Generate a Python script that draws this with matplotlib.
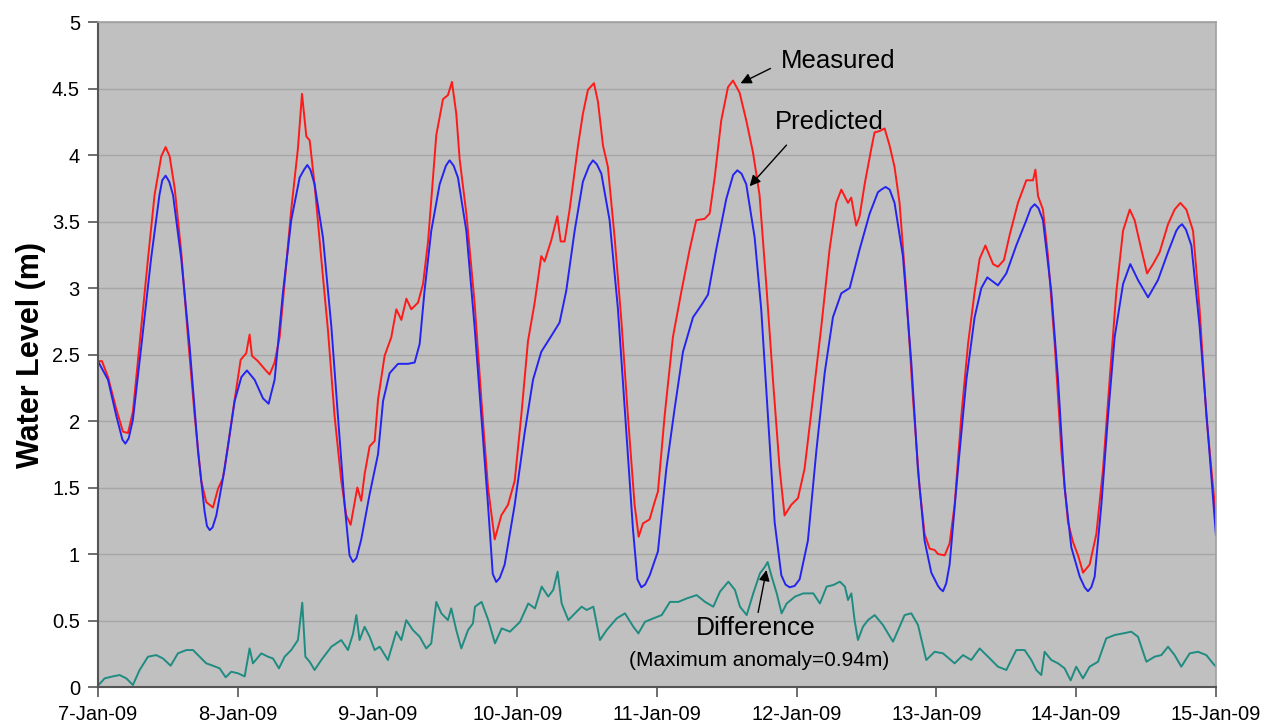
import matplotlib
matplotlib.use("Agg")
import matplotlib.pyplot as plt
import matplotlib.dates as mdates
import numpy as np
import pandas as pd

# days after 7-Jan-09 00:00, water level in metres
pred_days = [0.0, 0.072, 0.131, 0.175, 0.196, 0.22, 0.25, 0.31, 0.38, 0.44, 0.46, 0.484, 0.51,
             0.537, 0.596, 0.656, 0.716, 0.763, 0.78, 0.80, 0.82, 0.847, 0.906, 0.978, 1.026,
             1.066, 1.121, 1.181, 1.221, 1.264, 1.324, 1.383, 1.443, 1.475, 1.498, 1.52, 1.55,
             1.61, 1.67, 1.717, 1.765, 1.80, 1.825, 1.85, 1.884, 1.944, 2.004, 2.04, 2.087,
             2.147, 2.218, 2.266, 2.302, 2.337, 2.385, 2.445, 2.49, 2.516, 2.545, 2.576, 2.636,
             2.695, 2.743, 2.791, 2.825, 2.85, 2.875, 2.91, 2.982, 3.053, 3.113, 3.172, 3.244,
             3.303, 3.351, 3.411, 3.47, 3.515, 3.542, 3.57, 3.602, 3.661, 3.721, 3.781, 3.828,
             3.86, 3.888, 3.915, 3.948, 4.007, 4.067, 4.126, 4.186, 4.258, 4.317, 4.365, 4.424,
             4.496, 4.545, 4.575, 4.605, 4.639, 4.699, 4.746, 4.794, 4.842, 4.89, 4.92, 4.949,
             4.985, 5.021, 5.08, 5.14, 5.2, 5.259, 5.319, 5.379, 5.45, 5.522, 5.581, 5.605,
             5.636, 5.665, 5.7, 5.76, 5.82, 5.867, 5.915, 5.963, 6.011, 6.025, 6.047, 6.07,
             6.094, 6.154, 6.214, 6.273, 6.321, 6.364, 6.44, 6.5, 6.571, 6.643, 6.675, 6.703,
             6.73, 6.762, 6.822, 6.87, 6.917, 6.965, 7.025, 7.06, 7.084, 7.108, 7.132, 7.18,
             7.228, 7.275, 7.335, 7.387, 7.442, 7.514, 7.585, 7.657, 7.716, 7.735, 7.757, 7.785,
             7.824, 7.883, 7.943, 8.0]
pred_vals = [2.45, 2.31, 2.04, 1.86, 1.83, 1.87, 2.01, 2.56, 3.22, 3.70, 3.81, 3.845, 3.80,
             3.70, 3.22, 2.56, 1.77, 1.32, 1.21, 1.18, 1.20, 1.29, 1.64, 2.15, 2.33,
             2.38, 2.31, 2.17, 2.13, 2.31, 2.97, 3.51, 3.83, 3.89, 3.925, 3.89, 3.78,
             3.38, 2.71, 2.04, 1.37, 0.99, 0.94, 0.97, 1.11, 1.45, 1.75, 2.15, 2.36,
             2.43, 2.43, 2.44, 2.58, 2.98, 3.43, 3.78, 3.92, 3.96, 3.92, 3.83, 3.43,
             2.71, 2.04, 1.37, 0.85, 0.79, 0.82, 0.92, 1.37, 1.91, 2.31, 2.52, 2.64,
             2.74, 2.98, 3.43, 3.80, 3.92, 3.96, 3.93, 3.86, 3.51, 2.84, 1.91, 1.19,
             0.81, 0.75, 0.77, 0.84, 1.02, 1.64, 2.09, 2.52, 2.78, 2.87, 2.95, 3.29,
             3.67, 3.85, 3.885, 3.86, 3.78, 3.38, 2.84, 2.04, 1.24, 0.84, 0.77, 0.75,
             0.76, 0.81, 1.10, 1.77, 2.36, 2.78, 2.96, 3.0, 3.29, 3.56, 3.72, 3.74,
             3.76, 3.74, 3.64, 3.24, 2.44, 1.64, 1.10, 0.86, 0.76, 0.74, 0.72, 0.78,
             0.92, 1.64, 2.31, 2.78, 3.0, 3.08, 3.02, 3.11, 3.32, 3.51, 3.60, 3.63,
             3.60, 3.51, 2.97, 2.31, 1.50, 1.05, 0.83, 0.75, 0.72, 0.75, 0.83, 1.37,
             2.04, 2.63, 3.03, 3.18, 3.06, 2.93, 3.06, 3.27, 3.43, 3.46, 3.48, 3.44,
             3.32, 2.71, 1.91, 1.14]

meas_days = [0.0, 0.029, 0.072, 0.131, 0.179, 0.215, 0.25, 0.298, 0.358, 0.405, 0.453, 0.484,
             0.513, 0.549, 0.596, 0.644, 0.692, 0.739, 0.775, 0.823, 0.859, 0.894, 0.93, 0.978,
             1.021, 1.061, 1.085, 1.102, 1.145, 1.193, 1.228, 1.264, 1.30, 1.336, 1.383, 1.431,
             1.46, 1.491, 1.515, 1.55, 1.598, 1.646, 1.693, 1.741, 1.777, 1.808, 1.837, 1.856,
             1.884, 1.908, 1.944, 1.98, 2.004, 2.051, 2.099, 2.135, 2.171, 2.207, 2.242, 2.29,
             2.326, 2.362, 2.421, 2.469, 2.504, 2.533, 2.564, 2.588, 2.636, 2.695, 2.743, 2.791,
             2.839, 2.886, 2.934, 2.982, 3.029, 3.077, 3.125, 3.172, 3.196, 3.244, 3.287, 3.311,
             3.339, 3.375, 3.435, 3.47, 3.506, 3.549, 3.578, 3.614, 3.649, 3.697, 3.745, 3.792,
             3.84, 3.869, 3.90, 3.947, 3.983, 4.007, 4.055, 4.114, 4.174, 4.234, 4.281, 4.341,
             4.377, 4.413, 4.46, 4.508, 4.544, 4.591, 4.639, 4.687, 4.734, 4.782, 4.83, 4.878,
             4.913, 4.961, 5.009, 5.056, 5.116, 5.176, 5.235, 5.283, 5.319, 5.367, 5.39, 5.426,
             5.45, 5.486, 5.534, 5.557, 5.593, 5.629, 5.665, 5.70, 5.736, 5.784, 5.832, 5.879,
             5.915, 5.951, 5.987, 6.011, 6.059, 6.094, 6.13, 6.178, 6.226, 6.273, 6.309, 6.35,
             6.405, 6.44, 6.483, 6.524, 6.583, 6.643, 6.691, 6.708, 6.727, 6.762, 6.798, 6.846,
             6.894, 6.941, 6.977, 7.013, 7.049, 7.096, 7.144, 7.192, 7.239, 7.287, 7.335, 7.383,
             7.418, 7.466, 7.507, 7.55, 7.597, 7.657, 7.704, 7.745, 7.788, 7.836, 7.883, 7.931,
             7.979, 8.0]
meas_vals = [2.45, 2.45, 2.33, 2.09, 1.92, 1.91, 2.07, 2.58, 3.22, 3.70, 3.99, 4.06,
             3.99, 3.75, 3.27, 2.63, 2.04, 1.55, 1.39, 1.35, 1.49, 1.57, 1.81, 2.16,
             2.46, 2.51, 2.65, 2.49, 2.45, 2.39, 2.35, 2.44, 2.63, 3.05, 3.59, 4.05,
             4.46, 4.14, 4.11, 3.78, 3.22, 2.68, 2.04, 1.55, 1.29, 1.22, 1.39, 1.50,
             1.40, 1.60, 1.81, 1.85, 2.16, 2.49, 2.63, 2.84, 2.76, 2.92, 2.84, 2.89,
             3.03, 3.35, 4.15, 4.42, 4.45, 4.55, 4.31, 3.97, 3.56, 2.89, 2.17, 1.50,
             1.11, 1.29, 1.37, 1.55, 2.04, 2.60, 2.89, 3.24, 3.20, 3.36, 3.54, 3.35,
             3.35, 3.59, 4.07, 4.31, 4.49, 4.54, 4.40, 4.07, 3.91, 3.38, 2.76, 2.04,
             1.37, 1.13, 1.23, 1.26, 1.39, 1.47, 2.04, 2.63, 2.97, 3.29, 3.51, 3.52,
             3.56, 3.83, 4.26, 4.51, 4.56, 4.47, 4.26, 4.02, 3.70, 3.03, 2.31, 1.64,
             1.29, 1.37, 1.42, 1.64, 2.17, 2.71, 3.29, 3.64, 3.74, 3.64, 3.68, 3.47,
             3.54, 3.78, 4.05, 4.17, 4.18, 4.20, 4.07, 3.91, 3.64, 2.97, 2.17, 1.50,
             1.15, 1.04, 1.03, 1.0, 0.99, 1.08, 1.37, 2.04, 2.58, 2.97, 3.22, 3.32,
             3.18, 3.16, 3.21, 3.40, 3.64, 3.81, 3.81, 3.89, 3.69, 3.59, 3.24, 2.58,
             1.77, 1.24, 1.09, 0.99, 0.86, 0.92, 1.15, 1.64, 2.31, 2.97, 3.43, 3.59,
             3.51, 3.29, 3.11, 3.18, 3.27, 3.48, 3.59, 3.64, 3.59, 3.43, 2.84, 2.04,
             1.50, 1.27]

diff_days = [0.0, 0.048, 0.107, 0.155, 0.203, 0.25, 0.298, 0.358, 0.417, 0.465, 0.52, 0.572,
             0.632, 0.68, 0.727, 0.775, 0.823, 0.871, 0.914, 0.954, 1.002, 1.05, 1.085, 1.109,
             1.169, 1.216, 1.252, 1.295, 1.336, 1.383, 1.431, 1.462, 1.484, 1.515, 1.55, 1.598,
             1.67, 1.741, 1.789, 1.825, 1.849, 1.872, 1.908, 1.944, 1.98, 2.016, 2.075, 2.135,
             2.171, 2.206, 2.254, 2.302, 2.349, 2.385, 2.421, 2.457, 2.504, 2.528, 2.564, 2.60,
             2.648, 2.683, 2.698, 2.745, 2.793, 2.841, 2.889, 2.948, 3.02, 3.079, 3.127, 3.175,
             3.222, 3.258, 3.289, 3.318, 3.366, 3.413, 3.461, 3.497, 3.545, 3.592, 3.64, 3.712,
             3.771, 3.831, 3.867, 3.914, 3.974, 4.034, 4.093, 4.153, 4.213, 4.284, 4.344, 4.403,
             4.451, 4.511, 4.558, 4.594, 4.642, 4.689, 4.737, 4.773, 4.792, 4.821, 4.857, 4.892,
             4.928, 4.988, 5.047, 5.119, 5.166, 5.214, 5.262, 5.309, 5.345, 5.367, 5.391, 5.414,
             5.438, 5.474, 5.51, 5.558, 5.617, 5.689, 5.736, 5.772, 5.82, 5.868, 5.927, 5.987,
             6.047, 6.13, 6.19, 6.249, 6.309, 6.369, 6.44, 6.50, 6.571, 6.631, 6.679, 6.714,
             6.75, 6.774, 6.822, 6.87, 6.917, 6.96, 7.0, 7.048, 7.096, 7.156, 7.215, 7.275,
             7.335, 7.394, 7.442, 7.502, 7.561, 7.609, 7.657, 7.704, 7.752, 7.812, 7.871, 7.931,
             7.978, 8.0]
diff_vals = [0.01, 0.065, 0.08, 0.09, 0.065, 0.015, 0.128, 0.228, 0.24, 0.215, 0.16, 0.253,
             0.278, 0.278, 0.228, 0.178, 0.16, 0.14, 0.073, 0.115, 0.103, 0.08, 0.29, 0.178,
             0.253, 0.228, 0.215, 0.14, 0.228, 0.278, 0.353, 0.634, 0.228, 0.19, 0.128, 0.203,
             0.303, 0.353, 0.278, 0.40, 0.541, 0.353, 0.453, 0.378, 0.278, 0.303, 0.203, 0.416,
             0.353, 0.503, 0.428, 0.378, 0.29, 0.328, 0.64, 0.554, 0.503, 0.591, 0.428, 0.29,
             0.428, 0.478, 0.604, 0.64, 0.503, 0.328, 0.441, 0.416, 0.49, 0.628, 0.591, 0.755,
             0.68, 0.73, 0.867, 0.628, 0.503, 0.554, 0.604, 0.579, 0.604, 0.353, 0.428, 0.516,
             0.554, 0.453, 0.403, 0.49, 0.516, 0.541, 0.64, 0.64, 0.666, 0.691, 0.64, 0.604,
             0.717, 0.792, 0.73, 0.604, 0.541, 0.704, 0.855, 0.905, 0.94, 0.83, 0.704, 0.554,
             0.628, 0.68, 0.704, 0.704, 0.628, 0.755, 0.767, 0.792, 0.755, 0.654, 0.704, 0.503,
             0.353, 0.453, 0.503, 0.541, 0.466, 0.341, 0.453, 0.541, 0.554, 0.466, 0.203, 0.265,
             0.253, 0.178, 0.24, 0.203, 0.29, 0.228, 0.153, 0.128, 0.278, 0.278, 0.203, 0.128,
             0.09, 0.265, 0.203, 0.178, 0.14, 0.05, 0.153, 0.065, 0.153, 0.19, 0.366, 0.391,
             0.403, 0.416, 0.378, 0.19, 0.228, 0.24, 0.303, 0.24, 0.153, 0.253, 0.265, 0.24,
             0.178, 0.153]

start = pd.Timestamp("2009-01-07")


def to_dates(days):
    return start + pd.to_timedelta(np.array(days), unit="D")


plt.rcParams['font.family'] = ['Liberation Sans', 'DejaVu Sans']

fig = plt.figure(figsize=(12.64, 7.27), dpi=100)
ax = fig.add_axes([0.0775, 0.055, 0.8845, 0.9147])
ax.set_facecolor('#c0c0c0')

ax.plot(to_dates(meas_days), meas_vals, color='#ff1a1a', lw=1.4)
ax.plot(to_dates(pred_days), pred_vals, color='#2424f0', lw=1.4)
ax.plot(to_dates(diff_days), diff_vals, color='#1f8c82', lw=1.4)

ax.set_xlim(start, start + pd.Timedelta(days=8))
ax.set_ylim(0, 5)
ax.set_yticks(np.arange(0, 5.01, 0.5))
ax.set_yticklabels(['0', '0.5', '1', '1.5', '2', '2.5', '3', '3.5', '4', '4.5', '5'])
ax.xaxis.set_major_locator(mdates.DayLocator())
ax.xaxis.set_major_formatter(mdates.DateFormatter('%-d-%b-%y'))
ax.tick_params(axis='both', labelsize=14.5, direction='out', length=7, width=1.2,
               color='#555555', pad=6)
ax.grid(axis='y', color='#a6a6a6', lw=1)
ax.set_axisbelow(True)
for s in ['left', 'bottom']:
    ax.spines[s].set_color('#555555')
    ax.spines[s].set_linewidth(1.5)
for s in ['top', 'right']:
    ax.spines[s].set_color('#a0a0a0')
    ax.spines[s].set_linewidth(1.2)

ax.set_ylabel('Water Level (m)', fontsize=22, fontweight='bold', labelpad=4)

arrow = dict(arrowstyle='-|>', color='black', lw=1.0, mutation_scale=16)
d = lambda x: mdates.date2num(start + pd.Timedelta(days=x))
ax.annotate('', xy=(d(4.58), 4.53), xytext=(d(4.83), 4.66), arrowprops=arrow)
ax.text(d(5.295), 4.71, 'Measured', fontsize=18.5, ha='center', va='center')
ax.annotate('', xy=(d(4.65), 3.75), xytext=(d(4.94), 4.09), arrowprops=arrow)
ax.text(d(5.23), 4.25, 'Predicted', fontsize=18.5, ha='center', va='center')
ax.annotate('', xy=(d(4.787), 0.90), xytext=(d(4.72), 0.54), arrowprops=arrow)
ax.text(d(4.71), 0.44, 'Difference', fontsize=19, ha='center', va='center')
ax.text(d(4.73), 0.20, '(Maximum anomaly=0.94m)', fontsize=15, ha='center', va='center')

fig.savefig('out.png', dpi=100, facecolor='white')
